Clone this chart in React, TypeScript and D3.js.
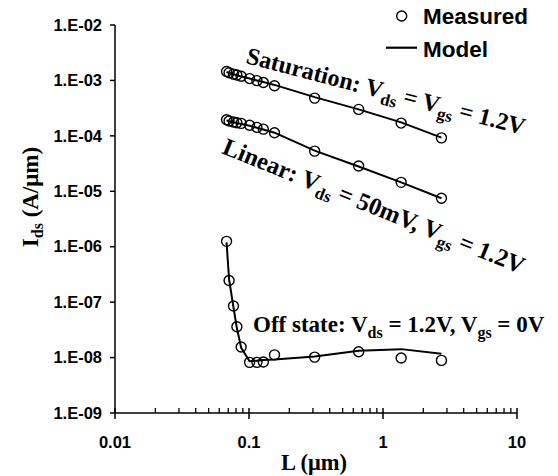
import React from "react";
import * as d3 from "d3";

// Channel length (µm)
const lengths = [0.068, 0.071, 0.0766, 0.0812, 0.0874, 0.101, 0.1146, 0.128, 0.155, 0.309, 0.658, 1.366, 2.73];

// Saturation: Vds = Vgs = 1.2V
const satMeasured = [1.45e-3, 1.38e-3, 1.3e-3, 1.25e-3, 1.19e-3, 1.08e-3, 9.9e-4, 9.2e-4, 8.0e-4, 4.8e-4, 3.0e-4, 1.7e-4, 9.2e-5];
const satModel = [1.42e-3, 1.36e-3, 1.29e-3, 1.24e-3, 1.18e-3, 1.08e-3, 1.0e-3, 9.4e-4, 8.3e-4, 5.0e-4, 3.0e-4, 1.75e-4, 9.3e-5];

// Linear: Vds = 50mV, Vgs = 1.2V
const linMeasured = [1.95e-4, 1.85e-4, 1.78e-4, 1.72e-4, 1.68e-4, 1.55e-4, 1.42e-4, 1.32e-4, 1.14e-4, 5.3e-5, 2.85e-5, 1.45e-5, 7.5e-6];
const linModel = [1.9e-4, 1.83e-4, 1.76e-4, 1.7e-4, 1.64e-4, 1.52e-4, 1.4e-4, 1.3e-4, 1.14e-4, 5.4e-5, 2.8e-5, 1.45e-5, 7.5e-6];

// Off state: Vds = 1.2V, Vgs = 0V
const offMeasured = [1.25e-6, 2.45e-7, 8.5e-8, 3.6e-8, 1.55e-8, 8.2e-9, 8.2e-9, 8.3e-9, 1.12e-8, 1.02e-8, 1.27e-8, 9.8e-9, 8.9e-9];
const offModel = [1.2e-6, 2.6e-7, 8e-8, 3.4e-8, 1.5e-8, 8.6e-9, 8.8e-9, 9.0e-9, 9.2e-9, 1.05e-8, 1.33e-8, 1.42e-8, 1.17e-8];

const yTickValues = [1e-9, 1e-8, 1e-7, 1e-6, 1e-5, 1e-4, 1e-3, 1e-2];
const yTickLabels = ["1.E-09", "1.E-08", "1.E-07", "1.E-06", "1.E-05", "1.E-04", "1.E-03", "1.E-02"];
const xTickValues = [0.01, 0.1, 1, 10];
const xTickLabels = ["0.01", "0.1", "1", "10"];

const W = 558;
const H = 476;

export default function App() {
  const x = d3.scaleLog().domain([0.01, 10]).range([115, 517]);
  const y = d3.scaleLog().domain([1e-9, 1e-2]).range([413, 25]);

  const line = d3
    .line<[number, number]>()
    .x((d) => x(d[0]))
    .y((d) => y(d[1]));

  const minorX: number[] = [];
  for (let dec = 0.01; dec < 10; dec *= 10) {
    for (let k = 2; k <= 9; k++) minorX.push(dec * k);
  }

  const series = [
    { m: satMeasured, mod: satModel },
    { m: linMeasured, mod: linModel },
    { m: offMeasured, mod: offModel },
  ];

  const axisFont = "Arial, 'Liberation Sans', sans-serif";
  const serif = "'Times New Roman', 'Liberation Serif', serif";
  const subDy = 6;

  return (
    <svg
      width={W}
      height={H}
      style={{ position: "absolute", left: 0, top: 0, background: "#fff" }}
    >
      <rect x={0} y={0} width={W} height={H} fill="#fff" />
      {/* axes */}
      <line x1={x(0.01)} x2={x(0.01)} y1={y(1e-2)} y2={y(1e-9)} stroke="#000" strokeWidth={1.5} />
      <line x1={x(0.01)} x2={x(10)} y1={y(1e-9)} y2={y(1e-9)} stroke="#000" strokeWidth={1.5} />
      {yTickValues.map((v, i) => (
        <g key={"yt" + i}>
          <line x1={x(0.01) - 5} x2={x(0.01)} y1={y(v)} y2={y(v)} stroke="#000" strokeWidth={1.5} />
          <text
            x={102}
            y={y(v)}
            dy="0.35em"
            textAnchor="end"
            fontFamily={axisFont}
            fontWeight="bold"
            fontSize={16.5}
          >
            {yTickLabels[i]}
          </text>
        </g>
      ))}
      {minorX.map((v, i) => (
        <line key={"mx" + i} x1={x(v)} x2={x(v)} y1={y(1e-9) - 5} y2={y(1e-9)} stroke="#000" strokeWidth={1.3} />
      ))}
      {xTickValues.map((v, i) => (
        <g key={"xt" + i}>
          <line x1={x(v)} x2={x(v)} y1={y(1e-9) - 5} y2={y(1e-9) + 6} stroke="#000" strokeWidth={1.5} />
          <text
            x={x(v)}
            y={448}
            textAnchor="middle"
            fontFamily={axisFont}
            fontWeight="bold"
            fontSize={16.5}
          >
            {xTickLabels[i]}
          </text>
        </g>
      ))}

      {/* axis titles */}
      <text x={314} y={470} textAnchor="middle" fontFamily={serif} fontWeight="bold" fontSize={22.5}>
        L (μm)
      </text>
      <text
        transform={`translate(38, 197) rotate(-90)`}
        textAnchor="middle"
        fontFamily={serif}
        fontWeight="bold"
        fontSize={23}
      >
        I
        <tspan fontSize={16} dy={5}>ds</tspan>
        <tspan dy={-5}> (A/μm)</tspan>
      </text>

      {/* model lines */}
      {series.map((s, i) => (
        <path
          key={"l" + i}
          d={line(lengths.map((L, j) => [L, s.mod[j]] as [number, number])) || ""}
          fill="none"
          stroke="#000"
          strokeWidth={2}
        />
      ))}
      {/* measured points */}
      {series.map((s, i) =>
        s.m.map((v, j) => (
          <circle
            key={"c" + i + "-" + j}
            cx={x(lengths[j])}
            cy={y(v)}
            r={5}
            fill="none"
            stroke="#000"
            strokeWidth={1.4}
          />
        ))
      )}

      {/* annotations */}
      <text
        transform="translate(245, 63) rotate(14.5)"
        fontFamily={serif}
        fontWeight="bold"
        fontSize={24}
      >
        Saturation: V
        <tspan fontSize={17} dy={subDy}>ds</tspan>
        <tspan dy={-subDy}> = V</tspan>
        <tspan fontSize={17} dy={subDy}>gs</tspan>
        <tspan dy={-subDy}> = 1.2V</tspan>
      </text>
      <text
        transform="translate(221, 153) rotate(22)"
        fontFamily={serif}
        fontWeight="bold"
        fontSize={24.5}
      >
        Linear: V
        <tspan fontSize={17} dy={subDy}>ds</tspan>
        <tspan dy={-subDy}> = 50mV, V</tspan>
        <tspan fontSize={17} dy={subDy}>gs</tspan>
        <tspan dy={-subDy}> = 1.2V</tspan>
      </text>
      <text x={253} y={332} fontFamily={serif} fontWeight="bold" fontSize={23}>
        Off state: V
        <tspan fontSize={16} dy={subDy}>ds</tspan>
        <tspan dy={-subDy}> = 1.2V, V</tspan>
        <tspan fontSize={16} dy={subDy}>gs</tspan>
        <tspan dy={-subDy}> = 0V</tspan>
      </text>

      {/* legend */}
      <circle cx={401.7} cy={16} r={5} fill="none" stroke="#000" strokeWidth={1.4} />
      <text x={423} y={24.3} fontFamily={axisFont} fontWeight="bold" fontSize={22.5}>
        Measured
      </text>
      <line x1={386} x2={417} y1={47.7} y2={47.7} stroke="#000" strokeWidth={2.2} />
      <text x={423} y={57.3} fontFamily={axisFont} fontWeight="bold" fontSize={22.5}>
        Model
      </text>
    </svg>
  );
}
